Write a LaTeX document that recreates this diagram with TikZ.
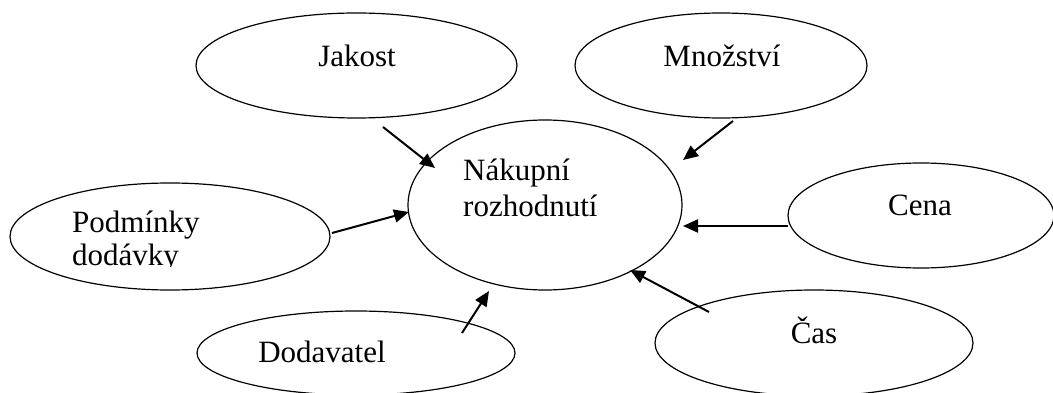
\documentclass[tikz,border=0pt]{standalone}
\usepackage{fontspec}
\setmainfont{Liberation Serif}
\usetikzlibrary{shapes.geometric,arrows.meta}
\begin{document}
\begin{tikzpicture}[x=1pt,y=-1pt,
  oval/.style={draw,ellipse,line width=1.2pt,inner sep=0pt},
  lbl/.style={font=\fontsize{31}{36}\selectfont,inner sep=0pt},
  conn/.style={line width=2pt,-{Triangle[length=15pt,width=13pt]}}]
\useasboundingbox (0,0) rectangle (1053,393);
\clip (0,0) rectangle (1053,393);
% ellipses
\node[oval,minimum width=321pt,minimum height=105pt] (jakost) at (356.5,65.5) {};
\node[oval,minimum width=292pt,minimum height=105pt] (mnozstvi) at (721,65.5) {};
\node[oval,minimum width=274pt,minimum height=170pt] (nakup) at (545,205) {};
\node[oval,minimum width=320pt,minimum height=107pt] (podminky) at (170,236.5) {};
\node[oval,minimum width=266pt,minimum height=105pt] (cena) at (921,215.5) {};
\node[oval,minimum width=318pt,minimum height=84pt] (dodavatel) at (356,353) {};
\node[oval,minimum width=318pt,minimum height=106pt] (cas) at (814,343) {};
% texts
\node[lbl,anchor=base] (tJakost) at (357,67) {Jakost};
\node[lbl,anchor=base] (tMnozstvi) at (722,67) {Množství};
\node[lbl,anchor=base west] (tNakup1) at (463,181) {Nákupní};
\node[lbl,anchor=base west] (tNakup2) at (463,217) {rozhodnutí};
\node[lbl,anchor=base] (tCena) at (920,215) {Cena};
\node[lbl,anchor=base] (tCas) at (814,343) {Čas};
\node[lbl,anchor=base] (tDodavatel) at (322,362) {Dodavatel};
\node[lbl,anchor=base west] (tPodm1) at (72,233) {Podmínky};
\begin{scope}
\clip (60,240) rectangle (200,266.5);
\node[lbl,anchor=base west] (tPodm2) at (72,265) {dodávky};
\end{scope}
% connector ends
\coordinate (jS) at (383,127); \coordinate (jE) at (435,168);
\coordinate (mS) at (733,121); \coordinate (mE) at (683,160);
\coordinate (pS) at (332,233); \coordinate (pE) at (409,212);
\coordinate (cS) at (788,226); \coordinate (cE) at (683,226);
\coordinate (dS) at (462,333); \coordinate (dE) at (489,291);
\coordinate (sS) at (709,312); \coordinate (sE) at (630,270);
\draw[conn] (jS) -- (jE);
\draw[conn] (mS) -- (mE);
\draw[conn] (pS) -- (pE);
\draw[conn] (cS) -- (cE);
\draw[conn] (dS) -- (dE);
\draw[conn] (sS) -- (sE);
\end{tikzpicture}
\end{document}
